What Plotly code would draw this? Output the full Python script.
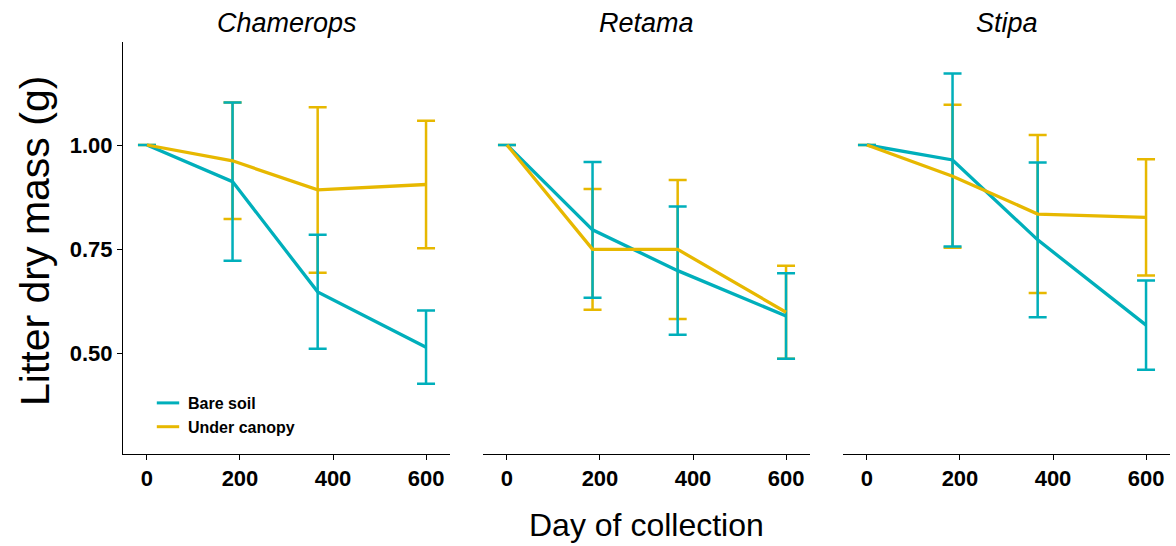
import plotly.graph_objects as go

species = ["Chamerops", "Retama", "Stipa"]
days = [0, 184, 367, 600]
groups = ["Bare soil", "Under canopy"]
colors = {"Bare soil": "#00AFBB", "Under canopy": "#E7B800"}

chamerops_bare = [1.00, 0.912, 0.647, 0.514]
chamerops_bare_se = [0, 0.190, 0.137, 0.088]
chamerops_under = [1.00, 0.962, 0.892, 0.905]
chamerops_under_se = [0, 0.140, 0.199, 0.153]

retama_bare = [1.00, 0.796, 0.698, 0.589]
retama_bare_se = [0, 0.163, 0.154, 0.103]
retama_under = [1.00, 0.749, 0.749, 0.598]
retama_under_se = [0, 0.145, 0.167, 0.112]

stipa_bare = [1.00, 0.964, 0.772, 0.567]
stipa_bare_se = [0, 0.208, 0.186, 0.107]
stipa_under = [1.00, 0.925, 0.834, 0.826]
stipa_under_se = [0, 0.172, 0.190, 0.140]

data = {
    "Chamerops": {"Bare soil": (chamerops_bare, chamerops_bare_se),
                  "Under canopy": (chamerops_under, chamerops_under_se)},
    "Retama": {"Bare soil": (retama_bare, retama_bare_se),
               "Under canopy": (retama_under, retama_under_se)},
    "Stipa": {"Bare soil": (stipa_bare, stipa_bare_se),
              "Under canopy": (stipa_under, stipa_under_se)},
}

W, H = 1176, 546
fig = go.Figure()

x_domains = [[123 / W, 450 / W], [483 / W, 810 / W], [843 / W, 1170 / W]]
y_domain = [1 - 454 / H, 1 - 42 / H]

for i, sp in enumerate(species):
    xa = "x" if i == 0 else f"x{i+1}"
    ya = "y" if i == 0 else f"y{i+1}"
    for g in ["Under canopy", "Bare soil"]:
        vals, se = data[sp][g]
        fig.add_trace(go.Scatter(
            x=days, y=vals, xaxis=xa, yaxis=ya, mode="markers",
            marker=dict(size=1, color=colors[g]),
            error_y=dict(type="data", array=se, visible=True, color=colors[g],
                         thickness=2.5, width=9),
            showlegend=False, hoverinfo="skip"))
    for g in ["Bare soil", "Under canopy"]:
        vals, se = data[sp][g]
        fig.add_trace(go.Scatter(
            x=days, y=vals, xaxis=xa, yaxis=ya, mode="lines",
            line=dict(color=colors[g], width=3.3),
            showlegend=False, name=g))

for g in groups:
    fig.add_trace(go.Scatter(
        x=[None], y=[None], mode="markers", name=g,
        marker=dict(symbol="line-ew-open", size=16, color=colors[g],
                    line=dict(color=colors[g], width=3)),
        showlegend=True))

tickfont = dict(family="Liberation Sans, Arial", size=22, color="black", weight="bold")
layout = dict(
    width=W, height=H,
    margin=dict(l=0, r=0, t=0, b=0),
    paper_bgcolor="white", plot_bgcolor="white",
    font=dict(family="Liberation Sans, Arial", color="black"),
    legend=dict(x=148 / W, y=1 - 386 / H, xanchor="left", yanchor="top",
                bgcolor="rgba(0,0,0,0)",
                font=dict(family="Liberation Sans, Arial", size=16, color="black",
                          weight="bold"),
                tracegroupgap=0, itemwidth=30),
)
for i in range(3):
    xk = "xaxis" if i == 0 else f"xaxis{i+1}"
    yk = "yaxis" if i == 0 else f"yaxis{i+1}"
    layout[xk] = dict(domain=x_domains[i], range=[-51.5, 651.5],
                      anchor="y" if i == 0 else f"y{i+1}",
                      tickvals=[0, 200, 400, 600], ticktext=["0", "200", "400", "600"],
                      ticks="outside", ticklen=5, tickwidth=1, tickcolor="black",
                      showline=True, linecolor="black", linewidth=1,
                      showgrid=False, zeroline=False, tickfont=tickfont)
    layout[yk] = dict(domain=y_domain, range=[0.2572, 1.2476],
                      anchor="x" if i == 0 else f"x{i+1}",
                      tickvals=[0.5, 0.75, 1.0], ticktext=["0.50", "0.75", "1.00"],
                      showgrid=False, zeroline=False,
                      showline=(i == 0), linecolor="black", linewidth=1,
                      ticks="outside" if i == 0 else "", ticklen=5, tickwidth=1,
                      tickcolor="black", showticklabels=(i == 0), tickfont=tickfont)
fig.update_layout(**layout)

annotations = []
for i, sp in enumerate(species):
    cx = (x_domains[i][0] + x_domains[i][1]) / 2
    annotations.append(dict(text=f"<i>{sp}</i>", x=cx, y=1 - 23 / H, xref="paper", yref="paper",
                            showarrow=False, xanchor="center", yanchor="middle",
                            font=dict(family="Liberation Sans, Arial", size=27, color="black")))
annotations.append(dict(text="Day of collection", x=646.5 / W, y=1 - 525 / H,
                        xref="paper", yref="paper", showarrow=False,
                        xanchor="center", yanchor="middle",
                        font=dict(family="Liberation Sans, Arial", size=32, color="black")))
annotations.append(dict(text="Litter dry mass (g)", x=35 / W, y=1 - 241 / H,
                        xref="paper", yref="paper", showarrow=False, textangle=-90,
                        xanchor="center", yanchor="middle",
                        font=dict(family="Liberation Sans, Arial", size=41, color="black")))
fig.update_layout(annotations=annotations)

fig.write_html("out.html")
